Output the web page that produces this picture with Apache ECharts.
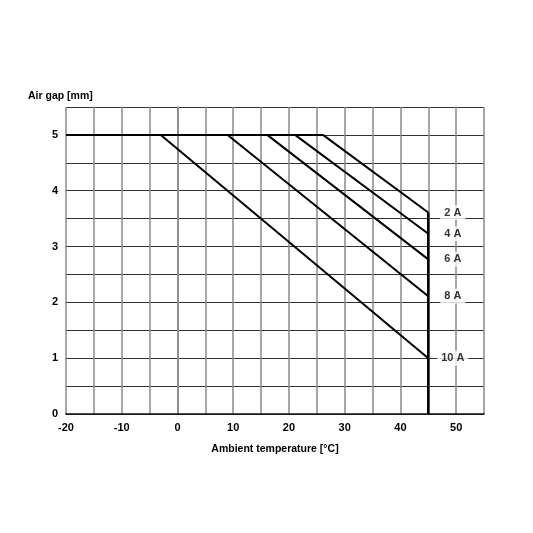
<!DOCTYPE html>
<html>
<head>
<meta charset="utf-8">
<script src="https://cdn.jsdelivr.net/npm/echarts@6/dist/echarts.min.js"></script>
<style>
  html, body { margin: 0; padding: 0; background: #fff; }
  #main { width: 533px; height: 533px; }
</style>
</head>
<body>
<div id="main"></div>
<script>
// derating curves: where each one leaves the 5 mm line, and its value at 45 °C
const currents = ['2 A', '4 A', '6 A', '8 A', '10 A'];
const tempStart = [26.1, 21.1, 16.1, 9.0, -3.0];
const gapAt45 = [3.61, 3.23, 2.77, 2.11, 1.0];
const maxGap = 5;
const endTemp = 45;
const labelTemp = 49.4;

const FONT = '"Liberation Sans", Arial, sans-serif';

var chartDom = document.getElementById('main');
var myChart = echarts.init(chartDom, null, { renderer: 'canvas' });

var series = [];

// flat 5 mm line up to where the 2 A curve starts
series.push({
  type: 'line',
  data: [[-20, maxGap], [tempStart[0], maxGap]],
  symbol: 'none',
  lineStyle: { color: '#000', width: 2 },
  silent: true
});

// limit at 45 °C
series.push({
  type: 'line',
  data: [[endTemp, 0], [endTemp, gapAt45[0]]],
  symbol: 'none',
  lineStyle: { color: '#000', width: 2.5 },
  silent: true
});

currents.forEach(function (c, i) {
  series.push({
    name: c,
    type: 'line',
    data: [[tempStart[i], maxGap], [endTemp, gapAt45[i]]],
    symbol: 'none',
    lineStyle: { color: '#000', width: 2 },
    silent: true
  });
});

// current labels
series.push({
  type: 'scatter',
  symbolSize: 0,
  silent: true,
  data: currents.map(function (c, i) { return { value: [labelTemp, gapAt45[i]], name: c }; }),
  label: {
    show: true,
    position: 'inside',
    formatter: function (p) { return p.name; },
    color: '#000',
    fontFamily: FONT,
    fontWeight: 'bold',
    fontSize: 11,
    backgroundColor: '#fff',
    padding: [2, 4]
  },
  z: 5
});

var option = {
  animation: false,
  title: {
    text: 'Air gap [mm]',
    left: 23,
    top: 86,
    textStyle: { fontFamily: FONT, fontWeight: 'bold', fontSize: 10.5, color: '#000' }
  },
  grid: { left: 66, right: 49, top: 107, bottom: 119 },
  xAxis: {
    type: 'value',
    min: -20,
    max: 55,
    interval: 5,
    name: 'Ambient temperature [°C]',
    nameLocation: 'middle',
    nameGap: 30,
    nameTextStyle: { fontFamily: FONT, fontWeight: 'bold', fontSize: 10.5, color: '#000' },
    axisLine: { show: true, lineStyle: { color: '#111', width: 1.5 } },
    axisTick: { show: false },
    axisLabel: {
      margin: 8,
      fontFamily: FONT,
      fontWeight: 'bold',
      fontSize: 11,
      color: '#000',
      formatter: function (v) { return v % 10 === 0 ? String(v) : ''; }
    },
    splitLine: { show: true, lineStyle: { color: '#888', width: 1.5 } }
  },
  yAxis: {
    type: 'value',
    min: 0,
    max: 5.5,
    interval: 0.5,
    axisLine: { show: true, lineStyle: { color: '#888', width: 1.5 } },
    axisTick: { show: false },
    axisLabel: {
      margin: 8,
      fontFamily: FONT,
      fontWeight: 'bold',
      fontSize: 11,
      color: '#000',
      formatter: function (v) { return (Number.isInteger(v) && v <= 5) ? String(v) : ''; }
    },
    splitLine: { show: true, lineStyle: { color: '#333', width: 1.2 } }
  },
  series: series
};

option && myChart.setOption(option);
</script>
</body>
</html>
